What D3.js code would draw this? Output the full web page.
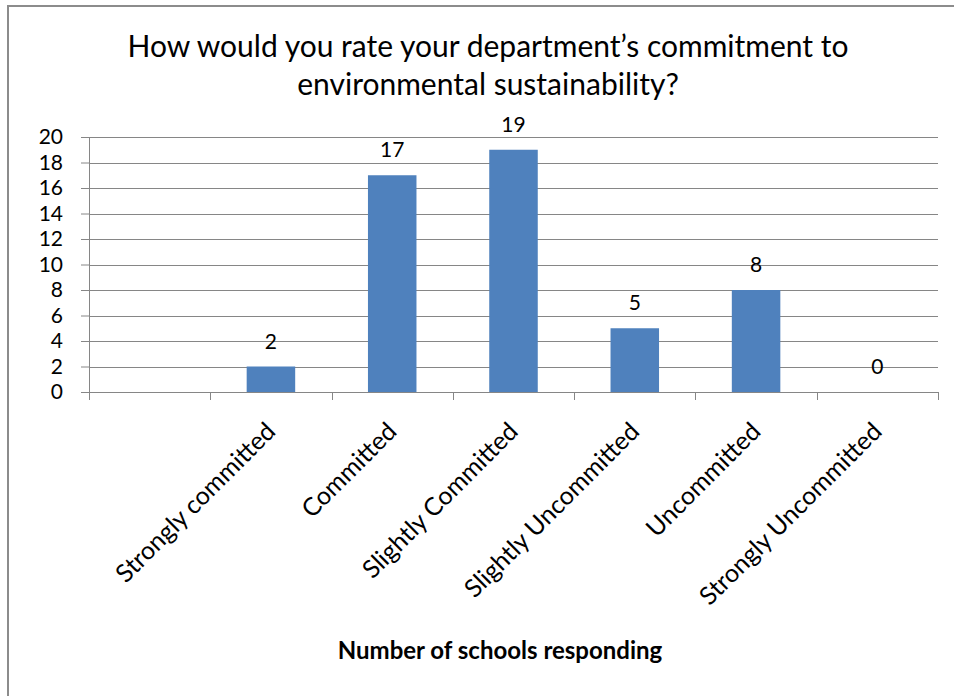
<!DOCTYPE html>
<html>
<head>
<meta charset="utf-8">
<script src="https://cdn.jsdelivr.net/npm/d3@7/dist/d3.min.js"></script>
<style>
  html, body { margin: 0; padding: 0; background: #fff; }
  svg { display: block; }
  text { font-family: Lato, "Open Sans", sans-serif; fill: #000; }
</style>
</head>
<body>
<svg id="chart" width="954" height="696"></svg>
<script>
// Survey answers (first slot is an unlabeled empty category)
const categories = ["", "Strongly committed", "Committed", "Slightly Committed",
                    "Slightly Uncommitted", "Uncommitted", "Strongly Uncommitted"];
const counts = [null, 2, 17, 19, 5, 8, 0];
const yTicks = [0, 2, 4, 6, 8, 10, 12, 14, 16, 18, 20];
const titleLines = ["How would you rate your department\u2019s commitment to",
                    "environmental sustainability?"];
const axisTitle = "Number of schools responding";

const svg = d3.select("#chart");
const plot = { left: 89, right: 938, top: 137, bottom: 392 };

// outer frame (top and left edges visible)
svg.append("path")
  .attr("d", "M8,697 L8,6 L956,6")
  .attr("fill", "none")
  .attr("stroke", "#8c8c8c")
  .attr("stroke-width", 2);

const x = d3.scaleBand().domain(categories).range([plot.left, plot.right]).padding(0);
const xBar = d3.scaleBand().domain(categories).range([plot.left, plot.right])
  .paddingInner(0.6).paddingOuter(0.3);
const y = d3.scaleLinear().domain([0, 20]).range([plot.bottom, plot.top]);

// value axis with left tick stubs
const yAxis = d3.axisLeft(y).tickValues(yTicks).tickSize(8).tickFormat(d3.format("d")).tickPadding(18);
const gy = svg.append("g").attr("transform", `translate(${plot.left},0)`).call(yAxis);
gy.select(".domain").attr("stroke", "#868686");
gy.selectAll(".tick line").attr("stroke", "#868686");
gy.selectAll(".tick text").attr("font-size", 21).attr("font-family", "Lato, sans-serif").attr("fill", "#000");

// horizontal gridlines
svg.append("g").selectAll("line.grid").data(yTicks.filter(d => d > 0)).join("line")
  .attr("x1", plot.left).attr("x2", plot.right)
  .attr("y1", d => Math.round(y(d)) + 0.5).attr("y2", d => Math.round(y(d)) + 0.5)
  .attr("stroke", "#868686").attr("stroke-width", 1);

const rows = categories.map((c, i) => ({ c, v: counts[i] })).filter(d => d.v !== null);

// bars
svg.append("g").selectAll("rect").data(rows).join("rect")
  .attr("x", d => xBar(d.c))
  .attr("width", xBar.bandwidth())
  .attr("y", d => y(d.v))
  .attr("height", d => y(0) - y(d.v))
  .attr("fill", "#4F81BD");

// value labels
svg.append("g").selectAll("text").data(rows).join("text")
  .attr("x", d => x(d.c) + x.bandwidth() / 2)
  .attr("y", d => y(d.v) - 18)
  .attr("text-anchor", "middle")
  .attr("font-size", 21)
  .text(d => d.v);

// category axis: ticks at band edges
const bandEdges = categories.map(c => x(c)).concat([plot.right]);
svg.append("line")
  .attr("x1", plot.left).attr("x2", plot.right)
  .attr("y1", plot.bottom + 0.5).attr("y2", plot.bottom + 0.5)
  .attr("stroke", "#868686");
svg.append("g").selectAll("line").data(bandEdges).join("line")
  .attr("x1", d => Math.round(d) + 0.5).attr("x2", d => Math.round(d) + 0.5)
  .attr("y1", plot.bottom).attr("y2", plot.bottom + 8)
  .attr("stroke", "#868686");

// rotated category labels
svg.append("g").selectAll("text").data(categories.filter(c => c !== "")).join("text")
  .attr("transform", c => `translate(${x(c) + x.bandwidth() / 2 + 6},${plot.bottom + 41}) rotate(-45)`)
  .attr("text-anchor", "end")
  .attr("font-size", 25)
  .text(c => c);

// chart title
svg.append("g").selectAll("text").data(titleLines).join("text")
  .attr("x", 488)
  .attr("y", (d, i) => 57 + i * 38)
  .attr("text-anchor", "middle")
  .attr("font-size", 30)
  .text(d => d);

// axis title
svg.append("text")
  .attr("x", 500).attr("y", 659)
  .attr("text-anchor", "middle")
  .attr("font-size", 24)
  .attr("font-weight", "bold")
  .text(axisTitle);
</script>
</body>
</html>
